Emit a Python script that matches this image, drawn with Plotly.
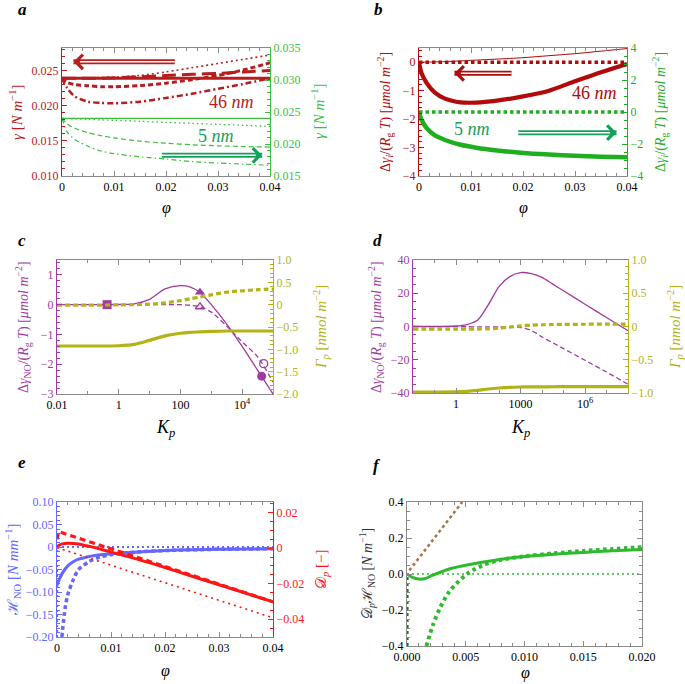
import plotly.graph_objects as go

W, H = 685, 684
SERIF = "Liberation Serif"
FRAME = "#8a8a8a"

# ---------------- data ----------------
# panel a
phi_a = [0, 0.001, 0.0025, 0.005, 0.0075, 0.01, 0.015, 0.02, 0.025, 0.03, 0.035, 0.04]
a46_solid = [0.0239] * 12
a46_dotted = [0.0239, 0.0239, 0.02392, 0.02395, 0.0240, 0.02405, 0.0243, 0.0248, 0.0254, 0.0260, 0.0266, 0.0272]
a46_dashed = [0.0239, 0.0233, 0.0230, 0.02285, 0.0227, 0.0227, 0.02285, 0.0232, 0.0237, 0.0243, 0.0251, 0.0261]
a46_longdash = [0.0239, 0.0239, 0.0239, 0.0239, 0.0239, 0.02395, 0.0241, 0.0243, 0.02445, 0.0246, 0.0248, 0.0250]
a46_dashdot = [0.0239, 0.0225, 0.0213, 0.02057, 0.0204, 0.02033, 0.02057, 0.0211, 0.0217, 0.0224, 0.0231, 0.0239]
a5_solid = [0.0240] * 12
a5_dotted = [0.0240, 0.02397, 0.02392, 0.02385, 0.02377, 0.02369, 0.02354, 0.02338, 0.02323, 0.02307, 0.02292, 0.02276]
a5_dashed = [0.0240, 0.0231, 0.02245, 0.02175, 0.0213, 0.02095, 0.02045, 0.02012, 0.01988, 0.01972, 0.0196, 0.01952]
a5_dashdot = [0.0240, 0.0219, 0.02067, 0.01965, 0.0189, 0.0185, 0.0180, 0.01765, 0.01725, 0.01702, 0.01685, 0.01668]

# panel b
phi_b = [0, 0.0005, 0.0015, 0.003, 0.005, 0.008, 0.011, 0.015, 0.02, 0.025, 0.03, 0.035, 0.04]
b46_thick = [0, -0.39, -0.74, -1.06, -1.28, -1.41, -1.42, -1.35, -1.20, -1.00, -0.67, -0.35, -0.06]
b46_thin = [0, 0.002, 0.005, 0.012, 0.02, 0.045, 0.075, 0.11, 0.16, 0.23, 0.30, 0.39, 0.48]
b46_zero = [0] * 13
b5_thick = [0, -0.5, -1.02, -1.45, -1.75, -2.05, -2.23, -2.40, -2.56, -2.66, -2.74, -2.79, -2.83]
b5_zero = [0] * 13

# panel c
Kp_c = [10 ** e for e in [-2, -1, 0, 0.5, 1.0, 1.5, 2.0, 2.3, 2.63, 3.0, 3.5, 4.0, 4.5, 5.0]]
c_dg_solid = [0, 0, 0.005, 0.03, 0.18, 0.53, 0.64, 0.60, 0.42, 0.0, -0.65, -1.4, -2.2, -3.0]
c_dg_dashed = [0, 0, 0, 0, 0, 0, 0, -0.02, -0.07, -0.25, -0.72, -1.25, -1.75, -2.6]
c_gam_dashed = [-0.01, -0.01, -0.005, 0.0, 0.01, 0.04, 0.09, 0.13, 0.17, 0.22, 0.28, 0.31, 0.335, 0.35]
c_gam_solid = [-0.925, -0.925, -0.92, -0.89, -0.80, -0.70, -0.64, -0.62, -0.61, -0.60, -0.59, -0.59, -0.59, -0.59]
c_mk_filled_x = [0.42, 430, 4.3e4]
c_mk_filled_y = [0.0, 0.42, -2.4]
c_mk_filled_sym = ["square", "triangle-up", "circle"]
c_mk_open_x = [430, 5.0e4]
c_mk_open_y = [-0.07, -1.98]
c_mk_open_sym = ["triangle-up-open", "circle-open"]

# panel d
Kp_d = [10 ** e for e in [-2, 0, 0.5, 1.0, 1.5, 2.0, 2.5, 3.0, 3.5, 4.0, 4.5, 5.0, 6.0, 7.0, 8.0]]
d_dg_solid = [0, 0.3, 1.2, 3.8, 13, 24, 30, 32.4, 31.8, 29.5, 25.5, 21.5, 13.4, 5.4, -2.6]
d_dg_dashed = [0, -0.1, -0.15, -0.2, -0.25, -0.3, -0.35, -0.6, -2.4, -6.3, -9.8, -13.3, -20.3, -27.4, -34.7]
d_gam_dashed = [-0.04, -0.04, -0.04, -0.038, -0.035, -0.025, -0.01, 0.01, 0.02, 0.026, 0.03, 0.032, 0.034, 0.035, 0.035]
d_gam_solid = [-0.985, -0.983, -0.975, -0.96, -0.94, -0.925, -0.915, -0.91, -0.908, -0.907, -0.906, -0.905, -0.905, -0.905, -0.905]

# panel e
phi_e = [0, 0.0005, 0.001, 0.002, 0.003, 0.004, 0.005, 0.006, 0.008, 0.01, 0.015, 0.02, 0.025, 0.03, 0.035, 0.04]
e_H_solid = [-0.085, -0.07, -0.058, -0.042, -0.033, -0.027, -0.024, -0.021, -0.017, -0.015, -0.011, -0.008, -0.006, -0.005, -0.0045, -0.004]
phi_e_dash = [0.0009, 0.0015, 0.002, 0.003, 0.004, 0.006, 0.008, 0.01, 0.015, 0.02, 0.03, 0.04]
e_H_dashed = [-0.2, -0.136, -0.106, -0.073, -0.05, -0.032, -0.022, -0.017, -0.011, -0.008, -0.005, -0.004]
phi_e_dot = [0, 0, 0.04]
e_H_dotted = [-0.2, 0, 0]
e_D_solid = [0.0009, 0.0018, 0.0024, 0.0028, 0.0027, 0.0023, 0.0017, 0.001, -0.0005, -0.0022, -0.0063, -0.0109, -0.0158, -0.0206, -0.0254, -0.0302]
phi_e_Ddash = [0, 0.0003, 0.04]
e_D_dashed = [0.005, 0.0093, -0.0302]
phi_e_Ddot = [0, 0.04]
e_D_dotted = [0.0003, -0.0392]

# panel f
phi_f = [0, 0.0005, 0.001, 0.0015, 0.0022, 0.003, 0.0036, 0.0051, 0.0065, 0.0079, 0.01, 0.0125, 0.015, 0.0175, 0.02]
f_solid = [0, -0.02, -0.028, -0.026, -0.006, 0.014, 0.028, 0.05, 0.067, 0.081, 0.097, 0.11, 0.12, 0.129, 0.136]
phi_f_dot = [0.00165, 0.0022, 0.0028, 0.0036, 0.0051, 0.0065, 0.0079, 0.01, 0.0125, 0.015, 0.0175, 0.02]
f_dotted_thick = [-0.4, -0.285, -0.19, -0.098, 0.0, 0.05, 0.078, 0.098, 0.115, 0.128, 0.139, 0.149]
phi_f_vert = [0, 0]
f_vert = [-0.4, 0]
phi_f_zero = [0, 0.02]
f_zero = [0, 0]
phi_f_brown = [0.0002, 0.0047]
f_brown = [0.02, 0.4]

# ---------------- colours ----------------
RED_A, GREEN_A, GREEN_A2 = "#b81c1c", "#3cbf3c", "#14a05a"
RED_B, GREEN_B = "#b00a0a", "#1fae1f"
PURPLE, OLIVE = "#a03aa0", "#b3b318"
BLUE, RED_E = "#6565ff", "#ff1515"
GREEN_F, DKGREEN, BROWN = "#2dbb2d", "#0c7f0c", "#a87648"

fig = go.Figure()


def add(x, y, xa, ya, color, width, dash="solid", shape="spline"):
    fig.add_trace(go.Scatter(x=x, y=y, xaxis=xa, yaxis=ya, mode="lines",
                             line=dict(color=color, width=width, dash=dash, shape=shape, smoothing=0.8),
                             showlegend=False, hoverinfo="skip"))


# panel a
add(phi_a, a5_solid, "x", "y2", GREEN_A, 1.3, "solid", "linear")
add(phi_a, a5_dotted, "x", "y2", GREEN_A, 1.3, "1.5px,3px")
add(phi_a, a5_dashed, "x", "y2", GREEN_A, 1.2, "5px,3px")
add(phi_a, a5_dashdot, "x", "y2", GREEN_A, 1.2, "5px,3px,1.5px,3px")
add(phi_a, a46_dotted, "x", "y", RED_A, 1.6, "2px,3px")
add(phi_a, a46_longdash, "x", "y", RED_A, 3, "14px,6px")
add(phi_a, a46_dashed, "x", "y", RED_A, 3, "5px,3px")
add(phi_a, a46_dashdot, "x", "y", RED_A, 2.5, "6px,3px,2px,3px")
add(phi_a, a46_solid, "x", "y", RED_A, 3, "solid", "linear")

# panel b
add(phi_b, b46_thin, "x2", "y3", RED_B, 1.0)
add(phi_b, b46_zero, "x2", "y3", RED_B, 3.5, "3.5px,3px", "linear")
add(phi_b, b46_thick, "x2", "y3", RED_B, 4.2)
add(phi_b, b5_zero, "x2", "y4", GREEN_B, 3.5, "3.5px,3px", "linear")
add(phi_b, b5_thick, "x2", "y4", GREEN_B, 4.5)

# panel c
add(Kp_c, c_gam_solid, "x3", "y6", OLIVE, 3.2)
add(Kp_c, c_gam_dashed, "x3", "y6", OLIVE, 3.2, "5px,3px")
add(Kp_c, c_dg_dashed, "x3", "y5", PURPLE, 1.3, "5px,3px")
add(Kp_c, c_dg_solid, "x3", "y5", PURPLE, 1.3)
fig.add_trace(go.Scatter(x=c_mk_filled_x, y=c_mk_filled_y, xaxis="x3", yaxis="y5", mode="markers",
                         marker=dict(symbol=c_mk_filled_sym, size=9, color=PURPLE),
                         showlegend=False, hoverinfo="skip"))
fig.add_trace(go.Scatter(x=c_mk_open_x, y=c_mk_open_y, xaxis="x3", yaxis="y5", mode="markers",
                         marker=dict(symbol=c_mk_open_sym, size=8, color=PURPLE, line=dict(width=1.3, color=PURPLE)),
                         showlegend=False, hoverinfo="skip"))

# panel d
add(Kp_d, d_gam_solid, "x4", "y8", OLIVE, 3.2)
add(Kp_d, d_gam_dashed, "x4", "y8", OLIVE, 3.2, "5px,3px")
add(Kp_d, d_dg_dashed, "x4", "y7", PURPLE, 1.3, "5px,3px")
add(Kp_d, d_dg_solid, "x4", "y7", PURPLE, 1.3)

# panel e
add(phi_e_dot, e_H_dotted, "x5", "y9", BLUE, 2.2, "2px,3px", "linear")
add(phi_e_dash, e_H_dashed, "x5", "y9", BLUE, 3.5, "4px,3px")
add(phi_e, e_H_solid, "x5", "y9", BLUE, 3)
add(phi_e_Ddot, e_D_dotted, "x5", "y10", RED_E, 1.6, "2px,4px", "linear")
add(phi_e_Ddash, e_D_dashed, "x5", "y10", RED_E, 3.2, "6px,4px", "linear")
add(phi_e, e_D_solid, "x5", "y10", RED_E, 3)

# panel f
add(phi_f_zero, f_zero, "x6", "y11", GREEN_F, 1.6, "2px,3px", "linear")
add(phi_f_brown, f_brown, "x6", "y11", BROWN, 2.6, "3px,3px", "linear")
add(phi_f_vert, f_vert, "x6", "y11", DKGREEN, 3.2, "3px,3px", "linear")
add(phi_f_dot, f_dotted_thick, "x6", "y11", GREEN_F, 4, "3.5px,3.5px")
add(phi_f, f_solid, "x6", "y11", GREEN_F, 3)


# ---------------- axes ----------------
def xd(p0, p1):
    return [p0 / W, p1 / W]


def yd(p0, p1):
    return [1 - p1 / H, 1 - p0 / H]


def xax(dom, anchor, rng, tv, tt, mdt=None, mvals=None, typ="linear"):
    minor = dict(ticks="inside", ticklen=3, tickcolor=FRAME)
    if mvals is not None:
        minor.update(tickmode="array", tickvals=mvals)
    else:
        minor.update(dtick=mdt)
    return dict(domain=dom, anchor=anchor, range=rng, type=typ, showline=True, linecolor=FRAME,
                linewidth=1, mirror="ticks", ticks="inside", ticklen=5, tickcolor=FRAME,
                tickmode="array", tickvals=tv, ticktext=tt, showgrid=False, zeroline=False,
                automargin=False,
                tickfont=dict(family=SERIF, size=12, color="black"), minor=minor)


def yax(dom, anchor, rng, tv, tt, mdt, color, side="left", overlay=None, mirror=False):
    d = dict(anchor=anchor, range=rng, side=side, showline=True, linecolor=color, linewidth=1,
             ticks="inside", ticklen=5, tickcolor=color, tickmode="array", tickvals=tv, ticktext=tt,
             showgrid=False, zeroline=False, mirror=("ticks" if mirror else False), automargin=False,
             tickfont=dict(family=SERIF, size=12, color=color),
             minor=dict(ticks="inside", ticklen=3, tickcolor=color, dtick=mdt))
    if overlay:
        d["overlaying"] = overlay
    else:
        d["domain"] = dom
    return d


M = "\u2212"
dom_a = (xd(62, 270), yd(48, 176))
dom_b = (xd(419, 627), yd(48, 176))
dom_c = (xd(57, 273), yd(260, 394))
dom_d = (xd(413, 628), yd(260, 393))
dom_e = (xd(57, 273), yd(502, 637))
dom_f = (xd(407, 642), yd(502, 646))

phi_ticks = [0, 0.01, 0.02, 0.03, 0.04]
phi_text = ["0", "0.01", "0.02", "0.03", "0.04"]

layout = dict(
    width=W, height=H, margin=dict(l=0, r=0, t=0, b=0, pad=0, autoexpand=False), autosize=False,
    paper_bgcolor="white", plot_bgcolor="white", showlegend=False,
    xaxis=xax(dom_a[0], "y", [0, 0.04], phi_ticks, phi_text, 0.002),
    yaxis=yax(dom_a[1], "x", [0.010, 0.0282], [0.010, 0.015, 0.020, 0.025],
              ["0.010", "0.015", "0.020", "0.025"], 0.001, RED_A),
    yaxis2=yax(None, "x", [0.015, 0.035], [0.015, 0.020, 0.025, 0.030, 0.035],
               ["0.015", "0.020", "0.025", "0.030", "0.035"], 0.001, GREEN_A, "right", "y"),
    xaxis2=xax(dom_b[0], "y3", [0, 0.04], phi_ticks, phi_text, 0.002),
    yaxis3=yax(dom_b[1], "x2", [-4, 0.5], [0, -1, -2, -3, -4], ["0", M + "1", M + "2", M + "3", M + "4"],
               0.2, RED_B),
    yaxis4=yax(None, "x2", [-4, 4], [4, 2, 0, -2, -4], ["4", "2", "0", M + "2", M + "4"], 0.5,
               GREEN_B, "right", "y3"),
    xaxis3=xax(dom_c[0], "y5", [-2, 5], [0.01, 1, 100, 1e4], ["0.01", "1", "100", "10<sup>4</sup>"],
               mvals=[0.1, 10, 1000, 1e5], typ="log"),
    yaxis5=yax(dom_c[1], "x3", [-3, 1.5], [1, 0, -1, -2, -3], ["1", "0", M + "1", M + "2", M + "3"],
               0.2, PURPLE),
    yaxis6=yax(None, "x3", [-2, 1], [1, 0.5, 0, -0.5, -1, -1.5, -2],
               ["1.0", "0.5", "0", M + "0.5", M + "1.0", M + "1.5", M + "2.0"], 0.1, OLIVE, "right", "y5"),
    xaxis4=xax(dom_d[0], "y7", [-2, 8], [1, 1000, 1e6], ["1", "1000", "10<sup>6</sup>"],
               mvals=[0.01, 0.1, 10, 100, 1e4, 1e5, 1e7, 1e8], typ="log"),
    yaxis7=yax(dom_d[1], "x4", [-40, 40], [40, 20, 0, -20, -40], ["40", "20", "0", M + "20", M + "40"],
               5, PURPLE),
    yaxis8=yax(None, "x4", [-1, 1], [1, 0.5, 0, -0.5, -1], ["1.0", "0.5", "0", M + "0.5", M + "1.0"],
               0.1, OLIVE, "right", "y7"),
    xaxis5=xax(dom_e[0], "y9", [0, 0.04], phi_ticks, phi_text, 0.002),
    yaxis9=yax(dom_e[1], "x5", [-0.2, 0.1], [0.1, 0.05, 0, -0.05, -0.1, -0.15, -0.2],
               ["0.10", "0.05", "0", M + "0.05", M + "0.10", M + "0.15", M + "0.20"], 0.01, BLUE),
    yaxis10=yax(None, "x5", [-0.05, 0.026], [0.02, 0, -0.02, -0.04], ["0.02", "0", M + "0.02", M + "0.04"],
                0.005, RED_E, "right", "y9"),
    xaxis6=xax(dom_f[0], "y11", [0, 0.02], [0, 0.005, 0.01, 0.015, 0.02],
               ["0.000", "0.005", "0.010", "0.015", "0.020"], 0.001),
    yaxis11=yax(dom_f[1], "x6", [-0.4, 0.4], [0.4, 0.2, 0, -0.2, -0.4],
                ["0.4", "0.2", "0.0", M + "0.2", M + "0.4"], 0.05, FRAME, mirror=True),
)
layout["yaxis11"]["tickfont"]["color"] = "black"
fig.update_layout(**layout)

ann = []


def text(px, py, s, size, color="black", angle=0):
    ann.append(dict(x=px / W, y=1 - py / H, xref="paper", yref="paper", text=s, showarrow=False,
                    font=dict(family=SERIF, size=size, color=color), textangle=angle,
                    xanchor="center", yanchor="middle"))


# panel letters
for lx, ly, s in [(22, 9, "a"), (379, 9, "b"), (22, 240, "c"), (377, 240, "d"), (22, 462, "e"), (377, 465, "f")]:
    text(lx, ly, "<b><i>%s</i></b>" % s, 17)

# axis titles
text(16, 112, "<i>γ</i> [<i>N m</i><sup>−1</sup>]", 15, RED_A, -90)
text(318, 112, "<i>γ</i> [<i>N m</i><sup>−1</sup>]", 15, GREEN_A, -90)
text(166, 208, "<i>φ</i>", 16)
tb = "Δ<i>γ<sub>i</sub></i>/(<i>R</i><sub>g</sub> <i>T</i>) [<i>μmol m</i><sup>−2</sup>]"
text(385, 112, tb, 14, RED_B, -90)
text(660, 112, tb, 14, GREEN_B, -90)
text(523, 208, "<i>φ</i>", 16)
tc = "Δ<i>γ</i><sub>NO</sub>/(<i>R</i><sub>g</sub> <i>T</i>) [<i>μmol m</i><sup>−2</sup>]"
tg = "<i>Γ<sub>p</sub></i> [<i>nmol m</i><sup>−2</sup>]"
text(23, 327, tc, 14, PURPLE, -90)
text(321, 327, tg, 15, OLIVE, -90)
text(165, 429, "<i>K<sub>p</sub></i>", 18)
text(376, 327, tc, 14, PURPLE, -90)
text(675, 327, tg, 15, OLIVE, -90)
text(520, 429, "<i>K<sub>p</sub></i>", 18)
text(13, 570, "ℋ<sub>NO</sub> [<i>N mm</i><sup>−1</sup>]", 15, BLUE, -90)
text(322, 570, "𝒟<sub><i>p</i></sub> [−]", 15, RED_E, -90)
text(165, 671, "<i>φ</i>", 16)
text(367, 574, "𝒟<sub><i>p</i></sub>ℋ<sub>NO</sub> [<i>N m</i><sup>−1</sup>]", 14, "#333333", -90)
text(525, 673, "<i>φ</i>", 16)

# in-plot labels (data coordinates)
ann.append(dict(x=0.0326, y=0.02055, xref="x", yref="y", text="46 <i>nm</i>", showarrow=False,
                font=dict(family=SERIF, size=18, color=RED_A)))
ann.append(dict(x=0.0297, y=0.0213, xref="x", yref="y2", text="5 <i>nm</i>", showarrow=False,
                font=dict(family=SERIF, size=18, color=GREEN_A2)))
ann.append(dict(x=0.0338, y=-1.07, xref="x2", yref="y3", text="46 <i>nm</i>", showarrow=False,
                font=dict(family=SERIF, size=18, color=RED_B)))
ann.append(dict(x=0.0101, y=-1.08, xref="x2", yref="y4", text="5 <i>nm</i>", showarrow=False,
                font=dict(family=SERIF, size=18, color=GREEN_A2)))

shapes = []


def darrow(xr, yr, x_tail, x_tip, yv, color, direction):
    # double-line shaft
    shapes.append(dict(type="line", xref=xr, yref=yr, x0=x_tail, x1=x_tip, y0=yv, y1=yv,
                       line=dict(color=color, width=5)))
    shapes.append(dict(type="line", xref=xr, yref=yr, x0=x_tail, x1=x_tip, y0=yv, y1=yv,
                       line=dict(color="white", width=1.5)))
    ann.append(dict(x=x_tip, y=yv, xref=xr, yref=yr, ax=(8 if direction < 0 else -8), ay=0,
                    showarrow=True, arrowhead=4, arrowsize=1, arrowwidth=2.8, arrowcolor=color, text=""))


darrow("x", "y", 0.0217, 0.0022, 0.02624, RED_A, -1)
darrow("x", "y2", 0.0192, 0.0385, 0.01823, GREEN_A2, 1)
darrow("x2", "y3", 0.0178, 0.0068, -0.39, RED_B, -1)
darrow("x2", "y4", 0.0191, 0.038, -1.29, GREEN_A2, 1)

fig.update_layout(annotations=ann, shapes=shapes)

fig.write_html("out.html", config={"displayModeBar": False, "responsive": False},
               post_script="document.body.style.margin='0px';document.body.style.overflow='hidden';")
